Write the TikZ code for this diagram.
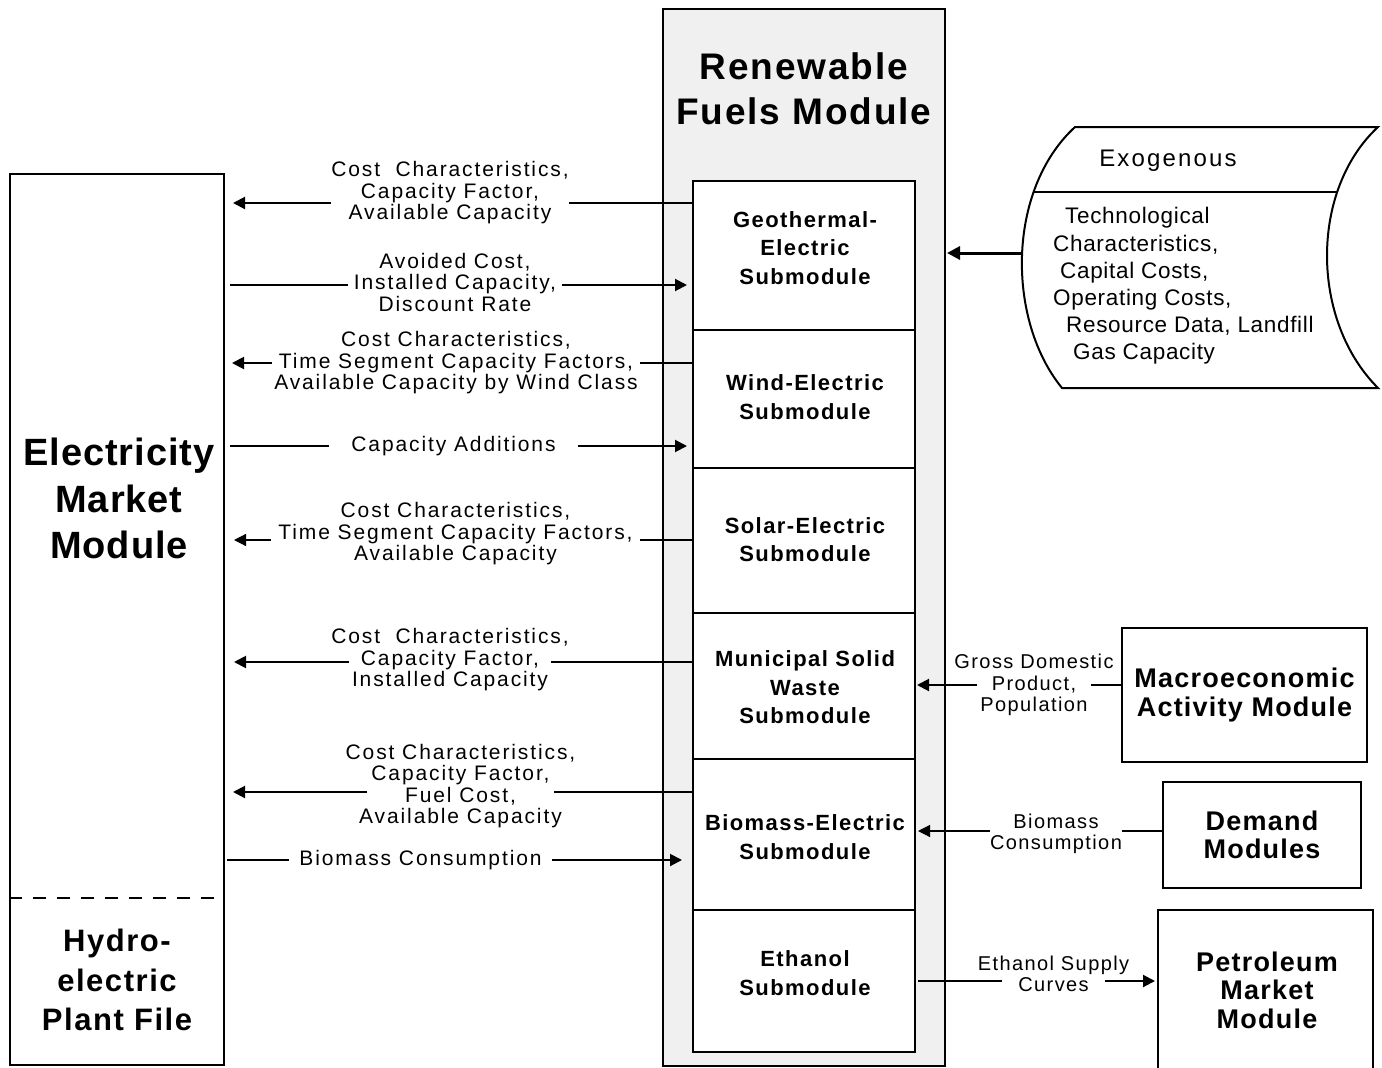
\documentclass[tikz,border=0pt]{standalone}
\usepackage{fontspec}
\setmainfont{Liberation Sans}
\usetikzlibrary{arrows.meta}
% font families with letter spacing
\newfontfamily\rflbl[LetterSpace=9]{Liberation Sans}
\newfontfamily\rfrlbl[LetterSpace=7]{Liberation Sans}
\newfontfamily\rfsub[LetterSpace=6.5]{Liberation Sans}
\newfontfamily\rfmod[LetterSpace=4.5]{Liberation Sans}
\newfontfamily\rfttl[LetterSpace=5]{Liberation Sans}
\newfontfamily\rfbig[LetterSpace=2.5]{Liberation Sans}
\newfontfamily\rfexo[LetterSpace=3]{Liberation Sans}
\newfontfamily\rfexoh[LetterSpace=9]{Liberation Sans}
\begin{document}
\begin{tikzpicture}[x=1pt,y=-1pt,
  box/.style={draw, line width=2pt, inner sep=0pt},
  sub/.style={box, fill=white, minimum width=222pt},
  lbl/.style={font=\rflbl\fontsize{21}{21.5}\selectfont, align=center, inner ysep=1pt},
  rlbl/.style={font=\rfrlbl\fontsize{20}{21.5}\selectfont, align=center, inner ysep=1pt},
  subtxt/.style={font=\rfsub\bfseries\fontsize{22}{28.5}\selectfont, align=center},
  modtxt/.style={font=\rfmod\bfseries\fontsize{27}{28.5}\selectfont, align=center},
  line/.style={line width=2pt},
  thinline/.style={line width=1.2pt},
  arr/.style={line width=2pt, -{Triangle[length=12pt,width=12pt]}},
  thinarr/.style={line width=1.2pt, -{Triangle[length=12pt,width=12pt]}},
  thickarr/.style={line width=3pt, -{Triangle[length=13pt,width=13pt]}}
]
\useasboundingbox (0,0) rectangle (1382,1068);
\clip (0,0) rectangle (1382,1068);

% Renewable Fuels Module frame and title
\node[box, fill=black!6, minimum width=282pt, minimum height=1057pt] (rfm) at (804,537.5) {};
\node[font=\rfttl\bfseries\fontsize{37}{45}\selectfont, align=center] (rfmt) at (804,88.5) {Renewable\\Fuels Module};

% submodules
\node[sub, minimum height=149pt] (geo) at (804,255.5) {};
\node[sub, minimum height=138pt] (wind) at (804,399) {};
\node[sub, minimum height=145pt] (sol) at (804,540.5) {};
\node[sub, minimum height=146pt] (msw) at (804,686) {};
\node[sub, minimum height=151pt] (bio) at (804,834.5) {};
\node[sub, minimum height=142pt] (eth) at (804,981) {};
\node[subtxt] (geot) at (805,248) {Geothermal-\\Electric\\Submodule};
\node[subtxt] (windt) at (805,397) {Wind-Electric\\Submodule};
\node[subtxt] (solt) at (805,539.5) {Solar-Electric\\Submodule};
\node[subtxt] (mswt) at (805,687.5) {Municipal Solid\\Waste\\Submodule};
\node[subtxt] (biot) at (805,837) {Biomass-Electric\\Submodule};
\node[subtxt] (etht) at (805,973) {Ethanol\\Submodule};

% Electricity Market Module
\node[box, minimum width=214pt, minimum height=891pt] (emm) at (117,619.5) {};
\draw[line, dash pattern=on 13pt off 11pt] (emm.west |- 0,898) -- (emm.east |- 0,898);
\node[font=\rfbig\bfseries\fontsize{38}{46.5}\selectfont, align=center] (emmt) at (119,498.5) {Electricity\\Market\\Module};
\node[font=\rfttl\bfseries\fontsize{31}{39.5}\selectfont, align=center] (hyd) at (117,980) {Hydro-\\electric\\Plant File};

% exogenous data
\draw[line] (1075,127) -- (1378,127) .. controls (1310,190) and (1310,320) .. (1378,388)
  -- (1062,388) .. controls (1006.5,320) and (1006.5,190) .. (1075,127) -- cycle;
\draw[line width=1.4pt] (1033,192) -- (1337,192);
\coordinate (exo) at (1022,253);
\node[font=\rfexoh\fontsize{24}{26}\selectfont] (exot) at (1168,161) {Exogenous};
\node[font=\rfexo\fontsize{22.5}{27.2}\selectfont, align=left, anchor=west, inner xsep=0pt] (exob) at (1053,286)
  {\hspace*{12pt}Technological\\Characteristics,\\\hspace*{7pt}Capital Costs,\\Operating Costs,\\\hspace*{13pt}Resource Data, Landfill\\\hspace*{20pt}Gas Capacity};
\draw[thickarr, shorten >=1pt] (exo) -- (rfm.east |- exo);

% other modules
\node[box, modtxt, minimum width=245pt, minimum height=134pt] (mac) at (1244.5,695) {Macroeconomic\\Activity Module};
\node[box, modtxt, minimum width=198pt, minimum height=106pt] (dem) at (1262,835) {Demand\\Modules};
\node[box, minimum width=215pt, minimum height=180pt] (pet) at (1265.5,1000) {};
\node[modtxt] (pett) at (1267,990) {Petroleum\\Market\\Module};

% flows between the Electricity Market Module and the submodules
\node[lbl, inner xsep=0pt] (l1) at (450,193) {Cost\ \ Characteristics,\\Capacity Factor,\\Available Capacity};
\draw[line] (geo.west |- 0,203) -- (l1.east |- 0,203);
\draw[arr, shorten >=8pt] (l1.west |- 0,203) -- (emm.east |- 0,203);

\node[lbl, inner xsep=6pt] (l2) at (455,282) {Avoided Cost,\\Installed Capacity,\\Discount Rate};
\draw[line, shorten <=5pt] (emm.east |- 0,285) -- (l2.west |- 0,285);
\draw[arr, shorten >=5pt] (l2.east |- 0,285) -- (geo.west |- 0,285);

\node[lbl, inner xsep=2pt] (l3) at (456,363) {Cost Characteristics,\\Time Segment Capacity Factors,\\Available Capacity by Wind Class};
\draw[line] (wind.west |- 0,363) -- (l3.east |- 0,363);
\draw[arr, shorten >=7pt] (l3.west |- 0,363) -- (emm.east |- 0,363);

\node[lbl, inner xsep=22pt] (l4) at (453.5,446) {Capacity Additions};
\draw[line, shorten <=5pt] (emm.east |- 0,446) -- (l4.west |- 0,446);
\draw[arr, shorten >=5pt] (l4.east |- 0,446) -- (wind.west |- 0,446);

\node[lbl, inner xsep=7pt] (l5) at (455.5,534) {Cost Characteristics,\\Time Segment Capacity Factors,\\Available Capacity};
\draw[thinline] (sol.west |- 0,540) -- (l5.east |- 0,540);
\draw[thinarr, shorten >=9pt] (l5.west |- 0,540) -- (emm.east |- 0,540);

\node[lbl, inner xsep=-18pt] (l6) at (450,660) {Cost\ \ Characteristics,\\Capacity Factor,\\Installed Capacity};
\draw[line] (msw.west |- 0,662) -- (l6.east |- 0,662);
\draw[arr, shorten >=9pt] (l6.west |- 0,662) -- (emm.east |- 0,662);

\node[lbl, inner xsep=-22pt] (l7) at (460.5,786) {Cost Characteristics,\\Capacity Factor,\\Fuel Cost,\\Available Capacity};
\draw[line] (bio.west |- 0,792) -- (l7.east |- 0,792);
\draw[arr, shorten >=8pt] (l7.west |- 0,792) -- (emm.east |- 0,792);

\node[lbl, inner xsep=10pt] (l8) at (420.5,860) {Biomass Consumption};
\draw[line, shorten <=2pt] (emm.east |- 0,860) -- (l8.west |- 0,860);
\draw[arr, shorten >=10pt] (l8.east |- 0,860) -- (bio.west |- 0,860);

% flows from the other modules
\node[rlbl, inner xsep=-23pt] (r1) at (1034,685) {Gross Domestic\\Product,\\Population};
\draw[line] (mac.west |- 0,685) -- (r1.east |- 0,685);
\draw[arr, shorten >=1pt] (r1.west |- 0,685) -- (msw.east |- 0,685);

\node[rlbl, inner xsep=0pt] (r2) at (1056,834) {Biomass\\Consumption};
\draw[thinline] (dem.west |- 0,831) -- (r2.east |- 0,831);
\draw[thinarr, shorten >=2pt] (r2.west |- 0,831) -- (bio.east |- 0,831);

\node[rlbl, inner xsep=-24pt] (r3) at (1053.5,974) {Ethanol Supply\\Curves};
\draw[line, shorten <=2pt] (eth.east |- 0,981) -- (r3.west |- 0,981);
\draw[arr, shorten >=2pt] (r3.east |- 0,981) -- (pet.west |- 0,981);
\end{tikzpicture}
\end{document}
